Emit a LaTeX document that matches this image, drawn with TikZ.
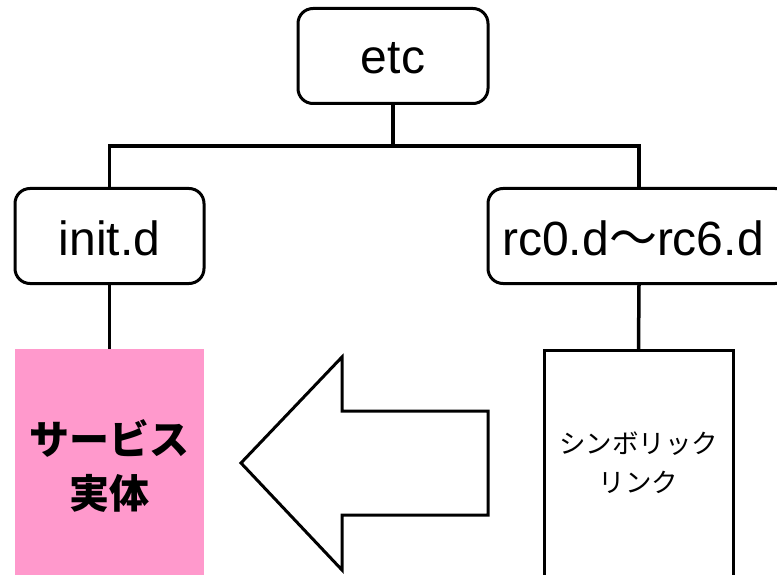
\documentclass[tikz,border=0pt]{standalone}
\usepackage{fontspec}
\setmainfont{Liberation Sans}
\newfontfamily\jp{Noto Sans CJK JP}
\begin{document}
\begin{tikzpicture}[x=1pt,y=-1pt,
  dirbox/.style={draw,line width=3pt,rounded corners=15pt,fill=white,inner sep=0pt},
  conn/.style={line width=3.5pt},
  big/.style={font=\fontsize{48}{56}\selectfont}]
\clip (0,0) rectangle (777,575);
\useasboundingbox (0,0) rectangle (777,575);
\node[dirbox,minimum width=190pt,minimum height=95pt] (etc) at (393,56) {};
\node[big] (etct) at (393,58) {etc};
\node[dirbox,minimum width=189pt,minimum height=95pt] (init) at (109.5,236) {};
\node[big] (initt) at (109.5,238) {init.d};
\node[dirbox,minimum width=302pt,minimum height=95pt] (rc) at (639,236) {};
\node[big] (rct) at (633,238) {rc0.d{\jp ～}rc6.d};
\coordinate (bus) at (393,146);
\node[fill={rgb,255:red,255;green,153;blue,204},minimum width=189pt,minimum height=260pt,inner sep=0pt,anchor=north] (svc) at (109.5,349) {};
\node[align=center,font=\jp\bfseries\fontsize{40}{54}\selectfont] (svct) at (109.5,466) {サービス\\実体};
\node[draw,line width=3pt,fill=white,minimum width=189pt,minimum height=260pt,inner sep=0pt,anchor=north] (lnk) at (638.5,349) {};
\node[align=center,font=\jp\fontsize{26.5}{39}\selectfont] (lnkt) at (638.5,463) {シンボリック\\リンク};
\draw[conn] (etc.south) -- (etc.south |- bus);
\draw[conn] (init.north) |- (bus) -| (rc.north);
\draw[conn] (init.south) -- (svc.north);
\draw[conn] (rc.south) -- (lnk.north);
\draw[line width=3pt,fill=white,line join=miter] (241,463) -- (342,357) -- (342,411) -- (488,411) -- (488,515) -- (342,515) -- (342,570) -- cycle;
\end{tikzpicture}
\end{document}
